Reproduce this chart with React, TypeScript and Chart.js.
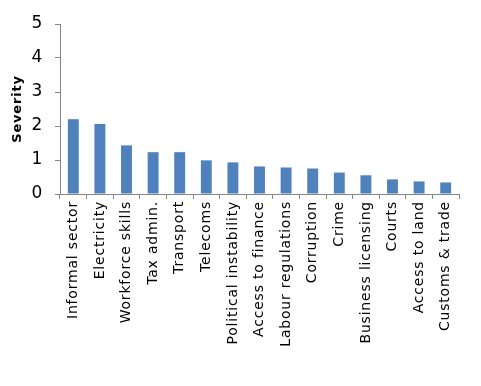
import React, { useEffect, useRef } from "react";
import { Chart, registerables } from "chart.js";

Chart.register(...registerables);

const categories = [
  "Informal sector",
  "Electricity",
  "Workforce skills",
  "Tax admin.",
  "Transport",
  "Telecoms",
  "Political instability",
  "Access to finance",
  "Labour regulations",
  "Corruption",
  "Crime",
  "Business licensing",
  "Courts",
  "Access to land",
  "Customs & trade",
];
const severity = [2.2, 2.06, 1.43, 1.23, 1.23, 0.99, 0.93, 0.81, 0.78, 0.75, 0.63, 0.55, 0.43, 0.37, 0.34];
const yTicks = [0, 1, 2, 3, 4, 5];

const spacingPlugin = {
  id: "spacing",
  beforeDraw(chart: any) {
    try {
      chart.ctx.letterSpacing = "0.8px";
    } catch (e) {}
  },
};

export default function App() {
  const ref = useRef<HTMLCanvasElement>(null);
  useEffect(() => {
    const chart = new Chart(ref.current!, {
      type: "bar",
      data: {
        labels: categories,
        datasets: [
          {
            data: severity,
            backgroundColor: "#4F81BD",
            categoryPercentage: 0.82,
            barPercentage: 0.5,
          },
        ],
      },
      plugins: [spacingPlugin],
      options: {
        animation: false,
        responsive: false,
        maintainAspectRatio: false,
        layout: { padding: { top: 24, right: 22, bottom: 0, left: 10 } },
        plugins: { legend: { display: false }, tooltip: { enabled: false } },
        scales: {
          x: {
            offset: true,
            grid: {
              offset: true,
              drawOnChartArea: false,
              drawTicks: true,
              tickLength: 5,
              color: "#868686",
            },
            border: { color: "#868686" },
            ticks: {
              color: "#000",
              font: { family: "DejaVu Sans", size: 14 },
              minRotation: 90,
              maxRotation: 90,
              autoSkip: false,
              padding: 2,
            },
            afterFit: (s: any) => {
              s.height = 192;
            },
          },
          y: {
            min: 0,
            max: 5,
            afterBuildTicks: (s: any) => {
              s.ticks = yTicks.map((v) => ({ value: v }));
            },
            grid: {
              drawOnChartArea: false,
              tickLength: 5,
              color: "#868686",
            },
            border: { color: "#868686" },
            ticks: {
              color: "#000",
              font: { family: "DejaVu Sans", size: 17 },
              padding: 12,
            },
            title: {
              display: true,
              text: "Severity",
              color: "#000",
              font: { family: "DejaVu Sans", size: 13, weight: "bold" },
              padding: { top: 0, bottom: 4 },
            },
            afterFit: (s: any) => {
              s.width = 50;
            },
          },
        },
      },
    });
    return () => chart.destroy();
  }, []);
  return (
    <div style={{ position: "fixed", left: 0, top: 0, width: 481, height: 386, background: "#fff" }}>
      <canvas ref={ref} width={481} height={386} />
    </div>
  );
}
